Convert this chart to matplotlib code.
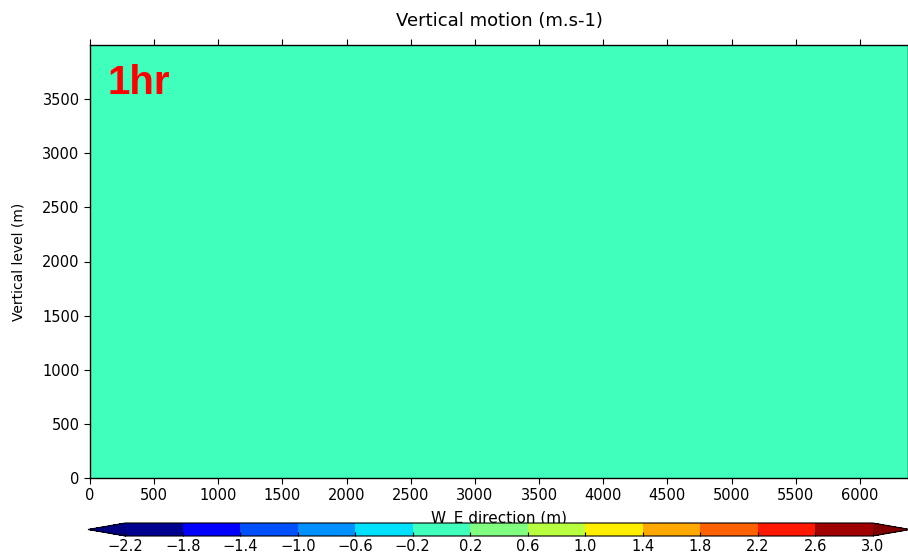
#!/usr/bin/env python

import numpy as np
import matplotlib
matplotlib.use("Agg")
import matplotlib.pyplot as plt
from matplotlib.colors import BoundaryNorm, ListedColormap

# grid of the cross section (m)
x_m = [0, 1000, 2000, 3000, 4000, 5000, 6000, 6400]
z_m = [0, 1000, 2000, 3000, 4000]

# vertical motion after 1 hr: flat field, no motion anywhere
w_ms = [0.0, 0.0, 0.0, 0.0, 0.0, 0.0, 0.0, 0.0]

levels = [-2.2, -1.8, -1.4, -1.0, -0.6, -0.2, 0.2, 0.6, 1.0, 1.4, 1.8, 2.2, 2.6, 3.0]
cbar_ticks = levels

panel_label = "1hr"

colors = [
    "#00008f", "#0000ff", "#0050ff", "#0090ff", "#00e0ff", "#40ffbc",
    "#80ff80", "#b8ff40", "#ffee00", "#ffa800", "#ff6000", "#ff1800",
    "#a00000",
]
cmap = ListedColormap(colors)
cmap.set_under("#000080")
cmap.set_over("#800000")
norm = BoundaryNorm(levels, cmap.N)

W = np.tile(np.array(w_ms), (len(z_m), 1))

fig = plt.figure(figsize=(9.08, 5.56), dpi=100)
ax = fig.add_axes([90 / 908, 1 - 478 / 556, 818 / 908, 433 / 556])

mesh = ax.pcolormesh(x_m, z_m, W, cmap=cmap, norm=norm, shading="gouraud")

ax.set_xlim(0, 6375)
ax.set_ylim(0, 4000)
ax.set_xticks(np.arange(0, 6001, 500))
ax.set_yticks(np.arange(0, 3501, 500))
ax.tick_params(direction="out", top=True, right=True, labelsize=10.5, length=4)
for s in ax.spines.values():
    s.set_linewidth(1.0)

ax.set_title("Vertical motion (m.s-1)", fontsize=13, pad=14)
ax.set_ylabel("Vertical level (m)", fontsize=10, labelpad=12)
ax.set_xlabel("W_E direction (m)", fontsize=11, labelpad=5)

ax.text(0.021, 0.955, panel_label, transform=ax.transAxes, color="red",
        fontsize=29, fontweight="bold", family="Liberation Sans",
        ha="left", va="top")

# colour bar: interior 125..872 px, triangles stick out on both sides
cax = fig.add_axes([88 / 908, 1 - 536 / 556, 822 / 908, 13 / 556])
cb = fig.colorbar(mesh, cax=cax, orientation="horizontal", extend="both",
                  ticks=cbar_ticks, boundaries=levels, spacing="uniform")
cb.ax.tick_params(labelsize=10.5, direction="in", length=3, pad=2)
cb.ax.set_xticklabels([f"{t:.1f}".replace("-", "\u2212") for t in cbar_ticks])

plt.savefig("out.png", dpi=100)
